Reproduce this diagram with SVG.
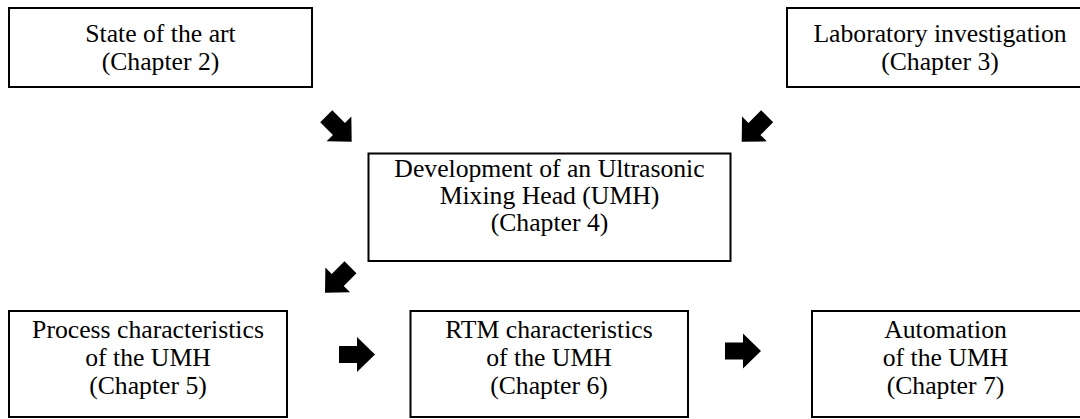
<svg xmlns="http://www.w3.org/2000/svg" width="1080" height="419" viewBox="0 0 1080 419">
  <defs>
    <style>
      .box { fill: #ffffff; stroke: #000000; stroke-width: 2; }
      .lbl { font-family: "Liberation Serif", "Times New Roman", serif; font-size: 25.7px; fill: #000000; text-anchor: middle; }
      .arr { fill: #000000; stroke: none; }
    </style>
    <path id="blockArrow" class="arr" d="M-36,-8.5 L-18,-8.5 L-18,-17.5 L0,0 L-18,17.5 L-18,8.5 L-36,8.5 Z"/>
  </defs>
  <rect x="0" y="0" width="1080" height="419" fill="#ffffff"/>

  <g id="node-state-of-art">
    <rect class="box" x="9" y="8" width="303" height="79"/>
    <text class="lbl" x="160.5" y="42">State of the art</text>
    <text class="lbl" x="160.5" y="70">(Chapter 2)</text>
  </g>

  <g id="node-laboratory">
    <rect class="box" x="787" y="8" width="305" height="79"/>
    <text class="lbl" x="940" y="42">Laboratory investigation</text>
    <text class="lbl" x="940" y="70">(Chapter 3)</text>
  </g>

  <g id="node-development">
    <rect class="box" x="368.5" y="153.5" width="362" height="107.5"/>
    <text class="lbl" x="549.5" y="177">Development of an Ultrasonic</text>
    <text class="lbl" x="549.5" y="204">Mixing Head (UMH)</text>
    <text class="lbl" x="549.5" y="231">(Chapter 4)</text>
  </g>

  <g id="node-process">
    <rect class="box" x="9" y="311" width="278" height="106"/>
    <text class="lbl" x="148" y="338">Process characteristics</text>
    <text class="lbl" x="148" y="366">of the UMH</text>
    <text class="lbl" x="148" y="394">(Chapter 5)</text>
  </g>

  <g id="node-rtm">
    <rect class="box" x="410.5" y="311" width="277.5" height="106"/>
    <text class="lbl" x="549" y="338">RTM characteristics</text>
    <text class="lbl" x="549" y="366">of the UMH</text>
    <text class="lbl" x="549" y="394">(Chapter 6)</text>
  </g>

  <g id="node-automation">
    <rect class="box" x="812" y="311" width="269" height="106"/>
    <text class="lbl" x="945.5" y="338">Automation</text>
    <text class="lbl" x="945.5" y="366">of the UMH</text>
    <text class="lbl" x="945.5" y="394">(Chapter 7)</text>
  </g>

  <g id="connectors">
    <use href="#blockArrow" transform="translate(351.7,141.7) rotate(45)"/>
    <use href="#blockArrow" transform="translate(741.7,141.7) rotate(135)"/>
    <use href="#blockArrow" transform="translate(325,292.7) rotate(135)"/>
    <use href="#blockArrow" transform="translate(375,354.5)"/>
    <use href="#blockArrow" transform="translate(761,351)"/>
  </g>
</svg>
